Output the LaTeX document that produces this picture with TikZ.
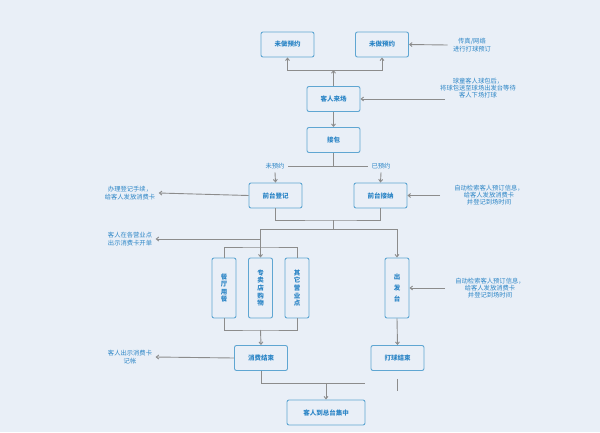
\documentclass[tikz,border=0pt]{standalone}
\usepackage{fontspec}
\setmainfont{Noto Sans CJK SC}
\usetikzlibrary{arrows.meta}
\definecolor{bg}{HTML}{E9EFF7}
\definecolor{bx}{HTML}{5FA6D2}
\definecolor{tx}{HTML}{2B85C6}
\definecolor{ln}{HTML}{8C8C8C}
\begin{document}
\begin{tikzpicture}[x=1pt,y=-1pt,
 box/.style={draw=bx,line width=0.9pt,rounded corners=2pt,fill=bg,text=tx,font=\fontsize{6.5}{8}\selectfont\bfseries,inner sep=0pt},
 hb/.style={box,minimum width=53pt,minimum height=25pt},
 vb/.style={box,minimum width=24pt,minimum height=60pt,align=center,font=\fontsize{6.5}{7.6}\selectfont\bfseries},
 note/.style={text=tx,font=\fontsize{6.3}{7.3}\selectfont,align=center},
 ar/.style={draw=ln,line width=0.9pt,-{Straight Barb[length=2.5pt,width=4pt]}},
 li/.style={draw=ln,line width=0.9pt}]
\fill[bg] (0,0) rectangle (600,432);
\useasboundingbox (0,0) rectangle (600,432);
\node[hb] (w1) at (287.5,44.5) {未做预约};
\node[hb] (w2) at (382,44.5) {未做预约};
\node[hb] (kr) at (333.5,99) {客人来场};
\node[hb] (jb) at (333.5,140) {接包};
\node[hb] (qd) at (275.5,195.5) {前台登记};
\node[hb] (qj) at (380.5,195.5) {前台接纳};
\node[vb] (ct) at (224,288) {餐\\厅\\用\\餐};
\node[vb] (zm) at (260.5,288) {专\\卖\\店\\购\\物};
\node[vb] (qt) at (297,288) {其\\它\\营\\业\\点};
\node[vb] (cf) at (397,288) {出\\[3pt]发\\[3pt]台};
\node[hb] (xf) at (261,358) {消费结束};
\node[hb] (dq) at (397.5,358) {打球结束};
\node[box,minimum width=78pt,minimum height=25pt] (zt) at (326,412.5) {客人到总台集中};
\node[note] (n1) at (472,45) {传真/网络\\进行打球预订};
\node[note] (n2) at (478,88) {球童客人球包后，\\将球包送至球场出发台等待\\客人下场打球};
\node[note] (n3) at (489,195) {自动检索客人预订信息，\\给客人发放消费卡\\并登记到场时间};
\node[note] (n4) at (490,288) {自动检索客人预订信息，\\给客人发放消费卡\\并登记到场时间};
\node[note] (n5) at (130,193) {办理登记手续，\\给客人发放消费卡};
\node[note] (n6) at (130,239) {客人在各营业点\\出示消费卡开单};
\node[note] (n7) at (130,357) {客人出示消费卡\\记帐};
\node[note] (l1) at (275,166) {未预约};
\node[note] (l2) at (381,166) {已预约};
\coordinate (s1) at (333.5,70);
\draw[ar] (kr.north) -- (s1) ;
\draw[ar] (s1) -| (w1.south);
\draw[ar] (s1) -| (w2.south);
\draw[ar] (n1.west) ++(-2,0) coordinate (e1) (e1) -- (w2.east);
\draw[ar] (445,99) coordinate (e2) (e2) -- (kr.east);
\draw[ar] (kr.south) -- (jb.north);
\coordinate (s2) at (333.5,166);
\draw[li] (jb.south) -- (s2) -- (l1.east) (s2) -- (l2.west);
\draw[ar] (l1.south) -- (qd.north);
\draw[ar] (l2.south) -- (qj.north);
\draw[ar] (440,195.5) coordinate (e3) (e3) -- (qj.east);
\draw[ar] (qd.west) -- (n5.east);
\coordinate (s3) at (333.5,220);
\draw[li] (qd.south) |- (s3) -| (qj.south);
\coordinate (s4) at (333.5,229);
\draw[li] (s3) -- (s4);
\draw[ar] (s4) -| (cf.north);
\draw[ar] (s4) -| (zm.north);
\draw[ar] (260.5,239) coordinate (e4) (e4) -- (n6.east);
\draw[li] (ct.north) |- (260.5,247) coordinate (s5) -| (qt.north);
\draw[li] (ct.south) |- (260.5,330) coordinate (s6) -| (qt.south);
\draw[ar] (s6) -- (xf.north);
\draw[ar] (cf.south) -- (dq.north);
\draw[ar] (445,288) coordinate (e5) (e5) -- (cf.east);
\draw[ar] (xf.west) -- (n7.east);
\coordinate (s7) at (326,383);
\draw[li] (xf.south) |- (365,383);
\draw[ar] (s7) -- (zt.north);
\draw[li] (dq.south) ++(0,8) -- ++(0,12);
\end{tikzpicture}
\end{document}
